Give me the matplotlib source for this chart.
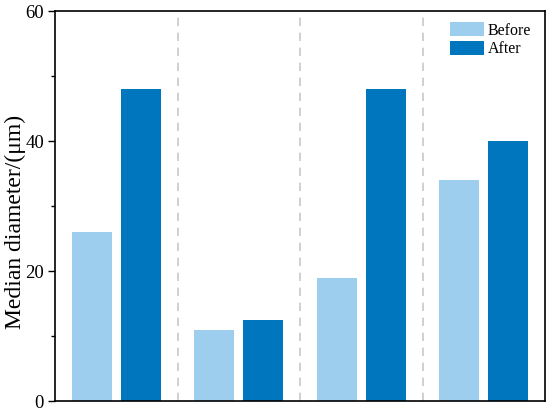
import matplotlib
matplotlib.use("Agg")
import matplotlib.pyplot as plt
import numpy as np

groups = ["G1", "G2", "G3", "G4"]
before = [26, 11, 19, 34]
after = [48, 12.5, 48, 40]
yticks = [0, 20, 40, 60]

plt.rcParams['font.family'] = ['Liberation Serif', 'DejaVu Serif']

fig = plt.figure(figsize=(5.5, 4.12), dpi=100)
ax = fig.add_axes([55/550, 11/412, 490/550, 390/412])

x = np.arange(len(groups))
w = 0.33
ax.bar(x - 0.2, before, w, color='#9DCEEE', label='Before')
ax.bar(x + 0.2, after, w, color='#0076BE', label='After')

for d in x[:-1] + 0.5:
    ax.axvline(d, color='#C8C8C8', linestyle=(0, (5, 4)), linewidth=1.2, zorder=0)

ax.set_xlim(-0.5, len(groups) - 0.5)
ax.set_ylim(0, 60)
ax.set_yticks(yticks)
ax.set_yticks([10, 30, 50], minor=True)
ax.set_xticks([])
ax.tick_params(axis='y', which='major', labelsize=13.5, length=5, width=1, direction='out', pad=3)
ax.tick_params(axis='y', which='minor', length=3, width=1, direction='out')
fig.text(15/550, 1 - 222/412, 'Median diameter/(μm)', fontsize=17,
         rotation=90, ha='center', va='center')
for s in ax.spines.values():
    s.set_linewidth(1.2)

ax.legend(loc='upper right', frameon=False, fontsize=11.5, handlelength=2.1,
          handleheight=1.0, handletextpad=0.25, labelspacing=0.12,
          borderaxespad=0.3, bbox_to_anchor=(0.995, 1.0))

fig.savefig('out.png', dpi=100)
